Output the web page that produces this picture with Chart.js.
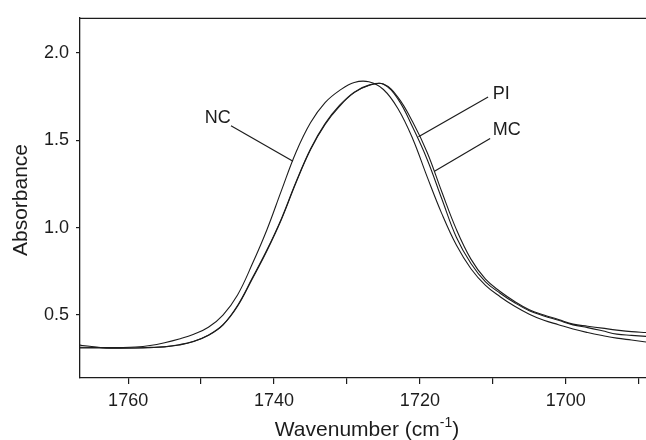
<!DOCTYPE html>
<html>
<head>
<meta charset="utf-8">
<script src="https://cdn.jsdelivr.net/npm/chart.js@4.4.1/dist/chart.umd.min.js"></script>
<style>
  html, body { margin: 0; padding: 0; background: #fff; }
  #wrap { width: 646px; height: 440px; }
</style>
</head>
<body>
<div id="wrap"><canvas id="spectrum" width="646" height="440"></canvas></div>
<script>
// wavenumber grid (cm-1), every 2 units
const wavenumbers = [1767, 1765, 1763, 1761, 1759, 1757, 1755, 1753, 1751, 1749,
                     1747, 1745, 1743, 1741, 1739, 1737, 1735, 1733, 1731, 1729,
                     1727, 1725, 1723, 1721, 1719, 1717, 1715, 1713, 1711, 1709,
                     1707, 1705, 1703, 1701, 1699, 1697, 1695, 1693, 1691, 1689];

const ncValues = [0.316, 0.315, 0.314, 0.314, 0.317, 0.326, 0.342, 0.363, 0.39, 0.43,
                  0.50, 0.615, 0.79, 0.985, 1.21, 1.43, 1.60, 1.715, 1.785, 1.83,
                  1.834, 1.79, 1.68, 1.51, 1.29, 1.08, 0.90, 0.765, 0.67, 0.605,
                  0.55, 0.505, 0.47, 0.445, 0.42, 0.40, 0.383, 0.368, 0.357, 0.346];

const piValues = [0.312, 0.312, 0.311, 0.311, 0.312, 0.315, 0.319, 0.33, 0.35, 0.385,
                  0.445, 0.555, 0.71, 0.87, 1.05, 1.26, 1.45, 1.595, 1.70, 1.775,
                  1.815, 1.82, 1.735, 1.575, 1.39, 1.165, 0.945, 0.795, 0.69, 0.625,
                  0.57, 0.525, 0.495, 0.47, 0.444, 0.428, 0.41, 0.391, 0.384, 0.378];

const mcValues = [0.33, 0.32, 0.313, 0.312, 0.312, 0.314, 0.318, 0.329, 0.349, 0.384,
                  0.443, 0.55, 0.705, 0.865, 1.045, 1.255, 1.445, 1.59, 1.695, 1.772,
                  1.813, 1.822, 1.745, 1.605, 1.43, 1.205, 0.99, 0.82, 0.705, 0.635,
                  0.578, 0.53, 0.5, 0.475, 0.448, 0.436, 0.425, 0.414, 0.405, 0.40];

const xTicks = [1760, 1750, 1740, 1730, 1720, 1710, 1700, 1690];
const yTicks = [0.5, 1.0, 1.5, 2.0];

// curve labels with leader lines, in data units: [text, textX, textY, fromX, fromY, toX, toY]
const curveLabels = [
  ['NC', 1749.5, 1.598, 1745.9, 1.583, 1737.4, 1.38],
  ['PI', 1710.0, 1.733, 1710.65, 1.747, 1720.19, 1.52],
  ['MC', 1710.0, 1.529, 1710.37, 1.51, 1718.0, 1.322]
];

const FONT = '"Liberation Sans", Arial, Helvetica, sans-serif';
const INK = '#1c1c1c';

function toPoints(values) {
  return wavenumbers.map((w, i) => ({ x: w, y: values[i] }));
}

function lineSet(label, values) {
  return {
    label: label,
    data: toPoints(values),
    borderColor: INK,
    borderWidth: 1.1,
    pointRadius: 0,
    tension: 0.4,
    fill: false
  };
}

const decorations = {
  id: 'decorations',
  afterDraw(chart) {
    const { ctx, chartArea, scales: { x, y } } = chart;
    ctx.save();

    // top frame line
    ctx.strokeStyle = INK;
    ctx.lineWidth = 1.3;
    ctx.beginPath();
    ctx.moveTo(chartArea.left, chartArea.top + 0.5);
    ctx.lineTo(chartArea.right, chartArea.top + 0.5);
    ctx.stroke();

    // curve labels
    ctx.fillStyle = INK;
    ctx.font = '18px ' + FONT;
    ctx.textAlign = 'left';
    ctx.textBaseline = 'alphabetic';
    ctx.lineWidth = 1.2;
    curveLabels.forEach(([txt, tx, ty, fx, fy, ex, ey]) => {
      ctx.fillText(txt, x.getPixelForValue(tx), y.getPixelForValue(ty));
      ctx.beginPath();
      ctx.moveTo(x.getPixelForValue(fx), y.getPixelForValue(fy));
      ctx.lineTo(x.getPixelForValue(ex), y.getPixelForValue(ey));
      ctx.stroke();
    });

    // y title
    ctx.save();
    ctx.translate(27, 200);
    ctx.rotate(-Math.PI / 2);
    ctx.textAlign = 'center';
    ctx.font = '21px ' + FONT;
    ctx.fillText('Absorbance', 0, 0);
    ctx.restore();

    // x title with superscript
    ctx.font = '21px ' + FONT;
    const main = 'Wavenumber (cm';
    const sup = '-1';
    const tail = ')';
    const wMain = ctx.measureText(main).width;
    const wTail = ctx.measureText(tail).width;
    ctx.font = '14px ' + FONT;
    const wSup = ctx.measureText(sup).width;
    const startX = 367 - (wMain + wSup + wTail) / 2;
    const base = 436;
    ctx.font = '21px ' + FONT;
    ctx.fillText(main, startX, base);
    ctx.font = '14px ' + FONT;
    ctx.fillText(sup, startX + wMain, base - 9);
    ctx.font = '21px ' + FONT;
    ctx.fillText(tail, startX + wMain + wSup, base);

    ctx.restore();
  }
};

new Chart(document.getElementById('spectrum'), {
  type: 'line',
  data: {
    datasets: [
      lineSet('NC', ncValues),
      lineSet('PI', piValues),
      lineSet('MC', mcValues)
    ]
  },
  options: {
    responsive: false,
    animation: false,
    events: [],
    layout: { padding: { top: 13, right: 0, bottom: 0, left: 0 } },
    plugins: {
      legend: { display: false },
      tooltip: { enabled: false }
    },
    scales: {
      x: {
        type: 'linear',
        reverse: true,
        min: 1689,
        max: 1766.6,
        afterBuildTicks(scale) {
          scale.ticks = xTicks.map(v => ({ value: v }));
        },
        afterFit(scale) {
          scale.height = 62;
        },
        grid: { drawOnChartArea: false, drawTicks: true, tickLength: 6, color: INK, lineWidth: 1.2 },
        border: { display: true, color: INK, width: 1.3 },
        ticks: {
          color: INK,
          padding: 6,
          maxRotation: 0,
          autoSkip: false,
          font: { family: FONT, size: 18 },
          callback: (v) => (v % 20 === 0 ? String(v) : '')
        }
      },
      y: {
        type: 'linear',
        min: 0.14,
        max: 2.2,
        afterBuildTicks(scale) {
          scale.ticks = yTicks.map(v => ({ value: v }));
        },
        afterFit(scale) {
          scale.width = 80;
        },
        grid: { drawOnChartArea: false, drawTicks: true, tickLength: 4, color: INK, lineWidth: 1.2 },
        border: { display: true, color: INK, width: 1.3 },
        ticks: {
          color: INK,
          padding: 7,
          font: { family: FONT, size: 18 },
          callback: (v) => v.toFixed(1)
        }
      }
    }
  },
  plugins: [decorations]
});
</script>
</body>
</html>
